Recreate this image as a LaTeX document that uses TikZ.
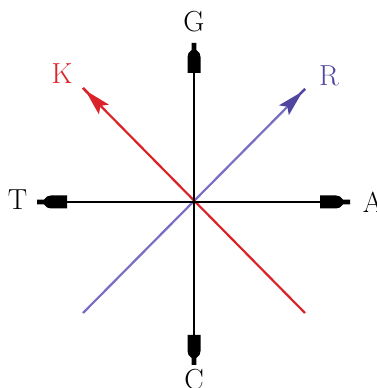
\documentclass[tikz,border=0pt]{standalone}
\usepackage{fontspec}
\definecolor{kred}{RGB}{218,35,40}
\definecolor{rtext}{RGB}{80,70,160}
\definecolor{rline}{RGB}{120,110,195}
\begin{document}
\begin{tikzpicture}[x=1pt,y=1pt,
  lbl/.style={font=\fontsize{29}{31}\selectfont, inner sep=0pt},
  axisline/.style={line width=2.4pt, black},
  diagline/.style={line width=2.2pt},
  blkhead/.pic={\fill[black] (0,2.4) -- (-7,2.4) -- (-10,5.5) -- (-14,6.5) -- (-30,6.5) -- (-30,-6.5) -- (-14,-6.5) -- (-10,-5.5) -- (-7,-2.4) -- (0,-2.4) -- cycle;},
  dhead/.pic={\fill (0,1.2) -- (-8,1.2) -- (-30,7) -- (-25,0) -- (-30,-7) -- (-8,-1.2) -- (0,-1.2) -- cycle;}
]
\useasboundingbox (0,0) rectangle (377,388);
\coordinate (O) at (194,186);
\coordinate (gtip) at (194,345);
\coordinate (ctip) at (194,23);
\coordinate (ttip) at (37,186);
\coordinate (atip) at (350,186);
\coordinate (ktip) at (83,300);
\coordinate (rtip) at (305,299);
\coordinate (kend) at (305,75);
\coordinate (rend) at (83,75);
% diagonals
\draw[diagline, rline] (rend) -- (rtip);
\draw[diagline, kred] (kend) -- (ktip);
\pic[rotate=45.2, rtext] at (rtip) {dhead};
\pic[rotate=134.2, kred] at (ktip) {dhead};
% axes
\draw[axisline] (ttip) -- (atip);
\draw[axisline] (ctip) -- (gtip);
\pic[rotate=90] at (gtip) {blkhead};
\pic[rotate=-90] at (ctip) {blkhead};
\pic[rotate=180] at (ttip) {blkhead};
\pic[rotate=0] at (atip) {blkhead};
% labels
\node[lbl] (G) at (194,366) {G};
\node[lbl] (C) at (194,8) {C};
\node[lbl] (T) at (17.5,188) {T};
\node[lbl] (A) at (373,186) {A};
\node[lbl, text=kred] (K) at (62,314) {K};
\node[lbl, text=rtext] (R) at (329,312) {R};
\end{tikzpicture}
\end{document}
